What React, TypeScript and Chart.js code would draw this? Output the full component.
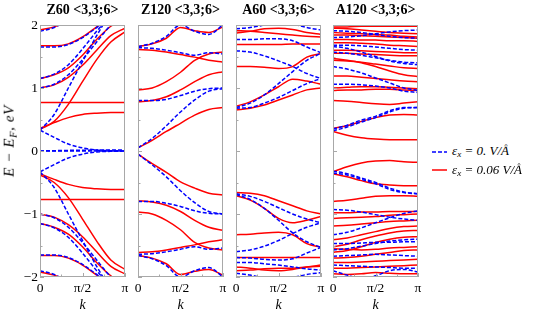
import React, { useEffect, useRef } from 'react';
import { Chart, registerables } from 'chart.js';

Chart.register(...registerables);

const FONT = '"Liberation Serif", "Times New Roman", "DejaVu Serif", serif';
const BLUE = 'rgb(0,0,255)';
const RED = 'rgb(255,0,0)';

// k sample points (fractions of pi)
const K_FRAC = [0, 1 / 6, 1 / 3, 1 / 2, 2 / 3, 5 / 6, 1];
const K = K_FRAC.map((f) => f * Math.PI);

const PANEL_TITLES = ['Z60 <3,3;6>', 'Z120 <3,3;6>', 'A60 <3,3;6>', 'A120 <3,3;6>'];
const X_TICKS = [0, Math.PI / 2, Math.PI];
const X_TICK_LABELS = ['0', 'π/2', 'π'];
const X_MINOR = [Math.PI / 4, (3 * Math.PI) / 4];
const Y_TICKS = [-2, -1, 0, 1, 2];
const Y_TICK_LABELS = ['−2', '−1', '0', '1', '2'];
const Y_MINOR = [-1.5, -0.5, 0.5, 1.5];
const LEGEND_VALUES = ['0.', '0.06'];

// ---- Z60 ----
const Z60_BLUE = [
  [0, 0, 0, 0, 0, 0, 0],
  [0, 0.005, 0.01, 0.012, 0.015, 0.016, 0.016],
  [0.33, 0.216, 0.11, 0.05, 0.015, 0.005, 0],
  [-0.33, -0.216, -0.11, -0.05, -0.015, -0.005, 0],
  [0.33, 0.58, 1.0, 1.42, 1.83, 2.2, 2.5],
  [-0.33, -0.58, -1.0, -1.42, -1.83, -2.2, -2.5],
  [1.0, 1.06, 1.21, 1.45, 1.73, 2.0, 2.2],
  [-1.0, -1.06, -1.21, -1.45, -1.73, -2.0, -2.2],
  [1.15, 1.22, 1.37, 1.62, 1.9, 2.15, 2.35],
  [-1.15, -1.22, -1.37, -1.62, -1.9, -2.15, -2.35],
  [1.65, 1.65, 1.69, 1.8, 1.96, 2.12, 2.25],
  [-1.65, -1.65, -1.69, -1.8, -1.96, -2.12, -2.25],
  [1.9, 1.96, 2.08, 2.2, 2.3, 2.35, 2.4],
  [-1.9, -1.96, -2.08, -2.2, -2.3, -2.35, -2.4],
];
const Z60_RED = [
  [0.36, 0.45, 0.53, 0.58, 0.6, 0.61, 0.61],
  [-0.36, -0.45, -0.53, -0.58, -0.6, -0.61, -0.61],
  [0.77, 0.77, 0.77, 0.77, 0.77, 0.77, 0.77],
  [-0.77, -0.77, -0.77, -0.77, -0.77, -0.77, -0.77],
  [0.34, 0.47, 0.74, 1.1, 1.45, 1.73, 1.89],
  [-0.38, -0.5, -0.74, -1.08, -1.43, -1.73, -1.88],
  [1.0, 1.05, 1.17, 1.36, 1.6, 1.83, 1.95],
  [-1.0, -1.05, -1.17, -1.36, -1.6, -1.83, -1.95],
  [1.15, 1.21, 1.32, 1.52, 1.77, 1.98, 2.1],
  [-1.15, -1.21, -1.32, -1.52, -1.77, -1.98, -2.1],
  [1.67, 1.67, 1.7, 1.81, 1.97, 2.12, 2.25],
  [-1.66, -1.66, -1.7, -1.81, -1.97, -2.12, -2.25],
  [1.92, 1.97, 2.06, 2.15, 2.25, 2.3, 2.35],
  [-1.92, -1.97, -2.06, -2.15, -2.25, -2.3, -2.35],
];

// ---- Z120 ----
const Z120_BLUE = [
  [0.05, 0.2, 0.4, 0.62, 0.81, 0.95, 0.99],
  [-0.05, -0.22, -0.41, -0.63, -0.82, -0.96, -1.0],
  [0.8, 0.8, 0.82, 0.88, 0.95, 0.99, 1.0],
  [-0.8, -0.8, -0.83, -0.88, -0.95, -0.99, -1.0],
  [1.64, 1.63, 1.6, 1.56, 1.52, 1.56, 1.54],
  [-1.64, -1.63, -1.6, -1.56, -1.52, -1.56, -1.54],
  [1.66, 1.71, 1.82, 2.0, 1.9, 1.85, 2.0],
  [-1.66, -1.71, -1.82, -2.0, -1.9, -1.85, -2.0],
];
const Z120_RED = [
  [0.05, 0.17, 0.31, 0.44, 0.57, 0.66, 0.69],
  [-0.05, -0.2, -0.34, -0.49, -0.59, -0.67, -0.7],
  [0.78, 0.8, 0.86, 0.97, 1.1, 1.21, 1.26],
  [-0.79, -0.81, -0.86, -0.96, -1.1, -1.21, -1.26],
  [0.97, 1.0, 1.1, 1.25, 1.44, 1.54, 1.57],
  [-0.97, -1.0, -1.1, -1.25, -1.45, -1.54, -1.57],
  [1.61, 1.6, 1.57, 1.53, 1.49, 1.44, 1.41],
  [-1.61, -1.6, -1.57, -1.53, -1.49, -1.44, -1.41],
  [1.66, 1.7, 1.79, 1.96, 1.91, 1.88, 1.97],
  [-1.66, -1.7, -1.79, -1.96, -1.91, -1.88, -1.97],
];

// ---- A60 ----
const A60_BLUE = [
  [0.69, 0.76, 0.89, 1.07, 1.26, 1.44, 1.55],
  [0.68, 0.69, 0.76, 0.85, 0.96, 1.07, 1.15],
  [1.59, 1.57, 1.51, 1.43, 1.34, 1.23, 1.15],
  [1.77, 1.77, 1.78, 1.78, 1.75, 1.65, 1.56],
  [1.94, 1.96, 2.0, 2.05, 2.1, 2.13, 2.15],
  [2.15, 2.14, 2.12, 2.08, 2.02, 1.96, 1.92],
  [-0.68, -0.72, -0.8, -0.9, -1.0, -1.08, -1.14],
  [-0.69, -0.77, -0.91, -1.1, -1.3, -1.44, -1.53],
  [-1.6, -1.57, -1.51, -1.42, -1.31, -1.21, -1.14],
  [-1.69, -1.7, -1.72, -1.73, -1.71, -1.62, -1.53],
  [-1.77, -1.77, -1.79, -1.81, -1.84, -1.87, -1.89],
  [-1.94, -1.97, -2.02, -2.08, -2.12, -2.15, -2.15],
  [-2.15, -2.14, -2.12, -2.07, -2.01, -1.96, -1.93],
];
const A60_RED = [
  [0.71, 0.78, 0.89, 1.02, 1.14, 1.11, 1.06],
  [0.65, 0.68, 0.73, 0.81, 0.89, 0.97, 1.0],
  [1.34, 1.34, 1.33, 1.31, 1.34, 1.49, 1.55],
  [1.69, 1.69, 1.69, 1.69, 1.7, 1.7, 1.7],
  [1.87, 1.9, 1.94, 1.95, 1.93, 1.88, 1.85],
  [1.91, 1.9, 1.88, 1.86, 1.84, 1.82, 1.81],
  [-0.66, -0.67, -0.71, -0.79, -0.87, -0.95, -1.0],
  [-0.71, -0.78, -0.91, -1.07, -1.14, -1.1, -1.04],
  [-1.33, -1.32, -1.3, -1.29, -1.33, -1.47, -1.53],
  [-1.69, -1.69, -1.69, -1.69, -1.69, -1.69, -1.69],
  [-1.84, -1.86, -1.89, -1.9, -1.88, -1.84, -1.81],
  [-1.9, -1.89, -1.87, -1.86, -1.86, -1.84, -1.83],
];

// ---- A120 ----
const A120_BLUE = [
  [0.35, 0.41, 0.49, 0.55, 0.64, 0.69, 0.69],
  [0.32, 0.38, 0.46, 0.53, 0.62, 0.68, 0.69],
  [1.06, 1.06, 1.05, 1.03, 1.0, 0.95, 0.93],
  [1.34, 1.3, 1.24, 1.16, 1.08, 1.0, 0.96],
  [1.57, 1.55, 1.52, 1.48, 1.44, 1.41, 1.4],
  [1.66, 1.63, 1.57, 1.5, 1.43, 1.39, 1.37],
  [1.68, 1.68, 1.67, 1.65, 1.63, 1.61, 1.6],
  [1.8, 1.81, 1.83, 1.86, 1.89, 1.91, 1.92],
  [1.91, 1.9, 1.88, 1.85, 1.82, 1.8, 1.79],
  [-0.35, -0.38, -0.45, -0.52, -0.61, -0.66, -0.68],
  [-0.32, -0.36, -0.43, -0.5, -0.59, -0.65, -0.68],
  [-0.93, -0.94, -0.97, -1.01, -1.05, -1.08, -1.1],
  [-1.33, -1.29, -1.22, -1.14, -1.06, -0.99, -0.95],
  [-1.47, -1.47, -1.46, -1.45, -1.45, -1.44, -1.44],
  [-1.57, -1.55, -1.51, -1.47, -1.43, -1.41, -1.4],
  [-1.67, -1.66, -1.65, -1.64, -1.65, -1.66, -1.67],
  [-1.81, -1.82, -1.83, -1.84, -1.85, -1.86, -1.86],
  [-1.9, -1.97, -2.02, -1.98, -1.9, -1.88, -1.92],
];
const A120_RED = [
  [0.31, 0.25, 0.21, 0.19, 0.18, 0.18, 0.18],
  [0.36, 0.4, 0.47, 0.53, 0.57, 0.58, 0.57],
  [0.8, 0.79, 0.77, 0.75, 0.74, 0.76, 0.78],
  [0.96, 0.97, 0.97, 0.98, 0.98, 0.97, 0.96],
  [1.0, 1.01, 1.02, 1.02, 1.01, 1.0, 0.99],
  [1.19, 1.19, 1.17, 1.15, 1.13, 1.11, 1.1],
  [1.44, 1.43, 1.41, 1.38, 1.35, 1.32, 1.31],
  [1.47, 1.44, 1.4, 1.34, 1.27, 1.21, 1.18],
  [1.55, 1.55, 1.54, 1.53, 1.52, 1.51, 1.51],
  [1.6, 1.6, 1.59, 1.58, 1.57, 1.56, 1.56],
  [1.72, 1.72, 1.71, 1.7, 1.68, 1.67, 1.66],
  [1.77, 1.77, 1.76, 1.76, 1.75, 1.75, 1.74],
  [1.84, 1.84, 1.83, 1.82, 1.81, 1.8, 1.79],
  [1.88, 1.87, 1.86, 1.85, 1.84, 1.82, 1.81],
  [1.95, 1.94, 1.92, 1.9, 1.88, 1.87, 1.86],
  [1.97, 1.97, 1.98, 1.98, 1.98, 1.98, 1.98],
  [-0.33, -0.25, -0.19, -0.16, -0.15, -0.17, -0.18],
  [-0.36, -0.41, -0.47, -0.52, -0.54, -0.55, -0.55],
  [-0.8, -0.78, -0.75, -0.72, -0.71, -0.71, -0.72],
  [-0.98, -0.98, -0.97, -0.97, -0.96, -0.96, -0.96],
  [-1.07, -1.06, -1.05, -1.04, -1.02, -1.01, -1.0],
  [-1.19, -1.18, -1.16, -1.14, -1.12, -1.11, -1.1],
  [-1.41, -1.38, -1.33, -1.28, -1.23, -1.2, -1.19],
  [-1.52, -1.48, -1.41, -1.35, -1.3, -1.27, -1.26],
  [-1.55, -1.56, -1.57, -1.56, -1.54, -1.53, -1.52],
  [-1.61, -1.58, -1.52, -1.45, -1.4, -1.37, -1.36],
  [-1.7, -1.69, -1.67, -1.64, -1.61, -1.58, -1.57],
  [-1.77, -1.77, -1.76, -1.75, -1.74, -1.73, -1.72],
  [-1.86, -1.86, -1.85, -1.84, -1.83, -1.82, -1.81],
  [-1.95, -1.96, -1.95, -1.93, -1.94, -1.95, -1.95],
];

const PANEL_BLUE = [Z60_BLUE, Z120_BLUE, A60_BLUE, A120_BLUE];
const PANEL_RED = [Z60_RED, Z120_RED, A60_RED, A120_RED];

// layout (pixels)
const PLOT_LEFT = [40, 138, 236, 333];
const PLOT_W = 85;
const PLOT_TOP = 25;
const X_AXIS_H = 40;
const H = 317;

const framePlugin = {
  id: 'frame',
  afterDatasetsDraw(chart: any) {
    const { ctx, chartArea: a, scales } = chart;
    ctx.save();
    ctx.strokeStyle = '#a8a8a8';
    ctx.lineWidth = 1;
    ctx.strokeRect(a.left + 0.5, a.top + 0.5, a.right - a.left - 1, a.bottom - a.top - 1);
    ctx.beginPath();
    const yt = (vals: number[], len: number) => {
      vals.forEach((v) => {
        const y = Math.round(scales.y.getPixelForValue(v)) + 0.5;
        ctx.moveTo(a.left, y);
        ctx.lineTo(a.left + len, y);
      });
    };
    yt(Y_TICKS, 4);
    yt(Y_MINOR, 2.5);
    const xt = (vals: number[], len: number) => {
      vals.forEach((v) => {
        const x = Math.round(scales.x.getPixelForValue(v)) + 0.5;
        ctx.moveTo(x, a.bottom);
        ctx.lineTo(x, a.bottom - len);
      });
    };
    xt(X_TICKS, 4);
    xt(X_MINOR, 2.5);
    ctx.stroke();
    ctx.restore();
  },
};

function BandPanel({ idx }: { idx: number }) {
  const ref = useRef<HTMLCanvasElement | null>(null);
  const showY = idx === 0;
  const padL = showY ? 40 : 12;
  const padR = 12;
  const W = padL + PLOT_W + padR;
  useEffect(() => {
    const canvas = ref.current;
    if (!canvas) return;
    const mk = (bands: number[][], color: string, dashed: boolean) =>
      bands.map((b) => ({
        data: b.map((v, i) => ({ x: K[i], y: v })),
        borderColor: color,
        borderWidth: 1.5,
        borderDash: dashed ? [4, 2] : [],
        pointRadius: 0,
        pointHoverRadius: 0,
        fill: false,
        cubicInterpolationMode: 'monotone' as const,
        order: dashed ? 0 : 1,
      }));
    const chart = new Chart(canvas, {
      type: 'line',
      data: { datasets: [...mk(PANEL_BLUE[idx], BLUE, true), ...mk(PANEL_RED[idx], RED, false)] as any },
      options: {
        animation: false,
        responsive: false,
        devicePixelRatio: 1,
        events: [],
        layout: { padding: { top: PLOT_TOP, right: padR, bottom: 0, left: showY ? 0 : padL } },
        plugins: { legend: { display: false }, tooltip: { enabled: false }, title: { display: false } },
        scales: {
          x: {
            type: 'linear',
            min: 0,
            max: Math.PI,
            grid: { display: false, drawTicks: false },
            border: { display: false },
            afterBuildTicks: (s: any) => {
              s.ticks = X_TICKS.map((v) => ({ value: v }));
            },
            afterFit: (s: any) => {
              s.height = X_AXIS_H;
            },
            ticks: {
              autoSkip: false,
              maxRotation: 0,
              padding: 3,
              color: '#000',
              font: { family: FONT, size: 13.5 },
              callback: (_v: any, i: number) => X_TICK_LABELS[i],
            },
            title: {
              display: true,
              text: 'k',
              color: '#000',
              font: { family: FONT, size: 14, style: 'italic' },
              padding: { top: 0, bottom: 3 },
            },
          },
          y: {
            type: 'linear',
            min: -2,
            max: 2,
            display: showY,
            grid: { display: false, drawTicks: false },
            border: { display: false },
            afterBuildTicks: (s: any) => {
              s.ticks = Y_TICKS.map((v) => ({ value: v }));
            },
            afterFit: (s: any) => {
              if (showY) s.width = padL;
            },
            ticks: {
              autoSkip: false,
              padding: 2,
              color: '#000',
              font: { family: FONT, size: 13.5 },
              callback: (_v: any, i: number) => Y_TICK_LABELS[i],
            },
          },
        },
      } as any,
      plugins: [framePlugin],
    });
    return () => chart.destroy();
  }, [idx]);
  return (
    <canvas
      ref={ref}
      width={W}
      height={H}
      style={{ position: 'absolute', left: PLOT_LEFT[idx] - padL, top: 0, width: W, height: H }}
    />
  );
}

function LegendRow({ top, dashed, color, value }: { top: number; dashed: boolean; color: string; value: string }) {
  return (
    <div
      style={{
        position: 'absolute',
        left: 432,
        top: top - 9,
        height: 18,
        display: 'flex',
        alignItems: 'center',
        whiteSpace: 'nowrap',
        font: `italic 13px ${FONT}`,
        color: '#000',
      }}
    >
      <svg width={15} height={6} style={{ display: 'block', marginRight: 5 }}>
        <line x1={0} y1={3} x2={15} y2={3} stroke={color} strokeWidth={1.5} strokeDasharray={dashed ? '4 2' : undefined} />
      </svg>
      <span>
        ε<sub style={{ fontSize: '0.7em', verticalAlign: '-0.25em' }}>x</sub> = {value} V/Å
      </span>
    </div>
  );
}

export default function App() {
  return (
    <div style={{ position: 'absolute', left: 0, top: 0, width: 537, height: H, background: '#fff', overflow: 'hidden' }}>
      {PANEL_TITLES.map((_t, i) => (
        <BandPanel key={'p' + i} idx={i} />
      ))}
      {PANEL_TITLES.map((t, i) => (
        <div
          key={'t' + i}
          style={{
            position: 'absolute',
            left: PLOT_LEFT[i] - 20,
            width: PLOT_W + 40,
            top: 2,
            lineHeight: '17px',
            textAlign: 'center',
            font: `bold 14px ${FONT}`,
            whiteSpace: 'nowrap',
            color: '#000',
          }}
        >
          {t}
        </div>
      ))}
      <div
        style={{
          position: 'absolute',
          left: 11,
          top: 141,
          transform: 'translate(-50%, -50%) rotate(-90deg)',
          whiteSpace: 'nowrap',
          font: `italic 15px ${FONT}`,
          letterSpacing: '0.6px',
          lineHeight: '18px',
          color: '#000',
        }}
      >
        E − E<sub style={{ fontSize: '0.7em', verticalAlign: '-0.25em' }}>F</sub>, eV
      </div>
      <LegendRow top={151.5} dashed={true} color={BLUE} value={LEGEND_VALUES[0]} />
      <LegendRow top={170} dashed={false} color={RED} value={LEGEND_VALUES[1]} />
    </div>
  );
}
